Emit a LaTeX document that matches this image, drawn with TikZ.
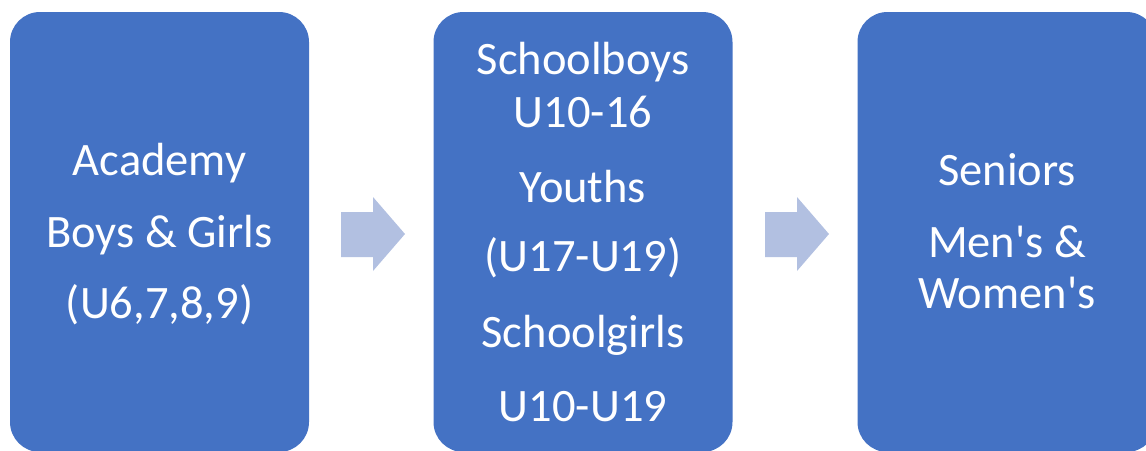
\documentclass[tikz,border=0pt]{standalone}
\usepackage{fontspec}
\setmainfont{Carlito}[Ligatures=TeXOff]
\definecolor{boxblue}{HTML}{4472C4}
\definecolor{arrowblue}{HTML}{B2C0E1}
\begin{document}
\begin{tikzpicture}[x=1pt,y=-1pt,
  stage/.style={fill=boxblue, draw=none, rounded corners=30pt, minimum width=299pt, minimum height=440pt, inner sep=0pt},
  lbl/.style={text=white, font=\fontsize{46.5}{55}\selectfont, anchor=base, inner sep=0pt},
  blockarrow/.style={fill=arrowblue, draw=none}]
\useasboundingbox (0,0) rectangle (1146,450);
\clip (0,0) rectangle (1146,450);
\node[stage] (b1) at (159.5,232) {};
\node[stage] (b2) at (583,232) {};
\node[stage] (b3) at (1007,232) {};
% arrows
\fill[blockarrow] (341,212) -- (373,212) -- (373,197) -- (405,234) -- (373,271) -- (373,257) -- (341,257) -- cycle;
\fill[blockarrow] (765,212) -- (797,212) -- (797,197) -- (829,234) -- (797,271) -- (797,257) -- (765,257) -- cycle;
% box 1 text
\node[lbl] (t11) at (159.5,175) {Academy};
\node[lbl] (t12) at (159.5,247) {Boys \& Girls};
\node[lbl] (t13) at (159.5,318) {(U6,7,8,9)};
% box 2 text
\node[lbl] (t21) at (583,74) {Schoolboys};
\node[lbl] (t22) at (583,127) {U10-16};
\node[lbl] (t23) at (583,202) {Youths};
\node[lbl] (t24) at (583,271) {(U17-U19)};
\node[lbl] (t25) at (583,347) {Schoolgirls};
\node[lbl] (t26) at (583,421) {U10-U19};
% box 3 text
\node[lbl] (t31) at (1007,185) {Seniors};
\node[lbl] (t32) at (1007,257) {Men's \&};
\node[lbl] (t33) at (1007,308) {Women's};
\end{tikzpicture}
\end{document}
